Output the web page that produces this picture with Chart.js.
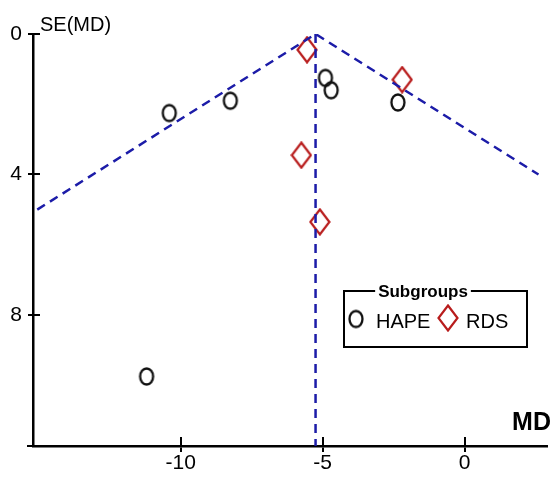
<!DOCTYPE html>
<html>
<head>
<meta charset="utf-8">
<script src="https://cdn.jsdelivr.net/npm/chart.js@4/dist/chart.umd.min.js"></script>
<style>
  html, body { margin: 0; padding: 0; background: #fff; }
  #wrap { width: 554px; height: 481px; }
</style>
</head>
<body>
<div id="wrap"><canvas id="funnel"></canvas></div>
<script>
// study estimates
const hapeMD = [-10.4, -8.25, -4.9, -4.7, -2.35, -11.2];
const hapeSE = [2.25, 1.9, 1.25, 1.6, 1.95, 9.75];
const rdsMD = [-5.55, -2.2, -5.75, -5.1];
const rdsSE = [0.45, 1.3, 3.45, 5.35];

// pooled estimate and pseudo-95% limits (end points as drawn)
const pooledMD = -5.25;
const funnelMD = [-15.05, -5.25, 2.6];
const funnelSE = [5, 0, 4];

const xTicks = [-10, -5, 0];
const yTicks = [0, 4, 8];
const xMin = -15.2, xMax = 2.9;
const yMax = 11.73;

const FONT = "'Liberation Sans', Arial, sans-serif";
const RED = '#b81c1c';
const BLUE = '#1c1ca8';

// marker images: open ellipse and tall diamond
function ellipseMarker() {
    const c = document.createElement('canvas');
    c.width = 18; c.height = 21;
    const g = c.getContext('2d');
    g.strokeStyle = '#111';
    g.lineWidth = 2.3;
    g.beginPath();
    g.ellipse(9, 10.5, 6.5, 8, 0, 0, Math.PI * 2);
    g.stroke();
    return c;
}
function diamondMarker() {
    const c = document.createElement('canvas');
    c.width = 22; c.height = 28;
    const g = c.getContext('2d');
    g.strokeStyle = RED;
    g.lineWidth = 2.2;
    g.beginPath();
    g.moveTo(11, 1.5);
    g.lineTo(20.5, 14);
    g.lineTo(11, 26.5);
    g.lineTo(1.5, 14);
    g.closePath();
    g.stroke();
    return c;
}
const circleImg = ellipseMarker();
const diamondImg = diamondMarker();

const toPts = (xs, ys) => xs.map((x, i) => ({ x: x, y: ys[i] }));

const extras = {
    id: 'extras',
    afterDraw(chart) {
        const ctx = chart.ctx;
        const xs = chart.scales.x, ys = chart.scales.y;
        const area = chart.chartArea;
        ctx.save();
        ctx.strokeStyle = '#000';
        ctx.lineWidth = 2;
        // inner half of tick marks
        ctx.beginPath();
        xTicks.forEach(v => {
            const px = Math.round(xs.getPixelForValue(v));
            ctx.moveTo(px, area.bottom);
            ctx.lineTo(px, area.bottom - 9);
        });
        yTicks.forEach(v => {
            const py = Math.round(ys.getPixelForValue(v));
            ctx.moveTo(area.left, py);
            ctx.lineTo(area.left + 7, py);
        });
        // x axis runs a little past the y axis
        ctx.moveTo(area.left - 6, area.bottom);
        ctx.lineTo(area.left, area.bottom);
        ctx.stroke();

        // axis titles
        ctx.fillStyle = '#000';
        ctx.font = '20px ' + FONT;
        ctx.textAlign = 'left';
        ctx.textBaseline = 'middle';
        ctx.fillText('SE(MD)', 40, 25);
        ctx.font = 'bold 25px ' + FONT;
        ctx.textAlign = 'right';
        ctx.fillText('MD', 551, 423);

        // legend box
        const bx = 344, by = 291, bw = 183, bh = 56;
        ctx.font = 'bold 17px ' + FONT;
        const title = 'Subgroups';
        const tw = ctx.measureText(title).width;
        const tcx = 423;
        ctx.lineWidth = 2;
        ctx.beginPath();
        ctx.moveTo(tcx - tw / 2 - 3, by);
        ctx.lineTo(bx, by);
        ctx.lineTo(bx, by + bh);
        ctx.lineTo(bx + bw, by + bh);
        ctx.lineTo(bx + bw, by);
        ctx.lineTo(tcx + tw / 2 + 3, by);
        ctx.stroke();
        ctx.textAlign = 'center';
        ctx.fillText(title, tcx, by + 1);
        ctx.drawImage(circleImg, 356 - 9, 319 - 10.5);
        ctx.drawImage(diamondImg, 448 - 11, 318 - 14);
        ctx.font = '20px ' + FONT;
        ctx.textAlign = 'left';
        ctx.fillText('HAPE', 376, 322);
        ctx.fillText('RDS', 466, 322);
        ctx.restore();
    }
};

new Chart(document.getElementById('funnel'), {
    type: 'scatter',
    data: {
        datasets: [
            {
                label: 'limits',
                data: toPts(funnelMD, funnelSE),
                showLine: true,
                borderColor: BLUE,
                borderWidth: 2.5,
                borderDash: [9, 6],
                pointRadius: 0,
                fill: false
            },
            {
                label: 'pooled',
                data: [{ x: pooledMD, y: 0 }, { x: pooledMD, y: yMax }],
                showLine: true,
                borderColor: BLUE,
                borderWidth: 2.5,
                borderDash: [9, 6],
                pointRadius: 0,
                fill: false
            },
            {
                label: 'HAPE',
                data: toPts(hapeMD, hapeSE),
                pointStyle: circleImg
            },
            {
                label: 'RDS',
                data: toPts(rdsMD, rdsSE),
                pointStyle: diamondImg
            }
        ]
    },
    options: {
        responsive: true,
        maintainAspectRatio: false,
        animation: false,
        layout: { padding: { top: 34, right: 7, left: 0, bottom: 0 } },
        plugins: {
            legend: { display: false },
            tooltip: { enabled: false }
        },
        scales: {
            x: {
                type: 'linear',
                min: xMin,
                max: xMax,
                afterBuildTicks: s => { s.ticks = xTicks.map(v => ({ value: v })); },
                afterFit: s => { s.height = 35; },
                border: { display: true, color: '#000', width: 2.5 },
                grid: { drawOnChartArea: false, drawTicks: true, tickLength: 6, color: '#000', lineWidth: 2 },
                ticks: { color: '#000', padding: -1, font: { family: FONT, size: 21 } }
            },
            y: {
                type: 'linear',
                reverse: true,
                min: 0,
                max: yMax,
                afterBuildTicks: s => { s.ticks = yTicks.map(v => ({ value: v })); },
                afterFit: s => { s.width = 33; },
                border: { display: true, color: '#000', width: 2.5 },
                grid: { drawOnChartArea: false, drawTicks: true, tickLength: 5, color: '#000', lineWidth: 2 },
                ticks: { color: '#000', padding: 6, font: { family: FONT, size: 21 } }
            }
        }
    },
    plugins: [extras]
});
</script>
</body>
</html>
